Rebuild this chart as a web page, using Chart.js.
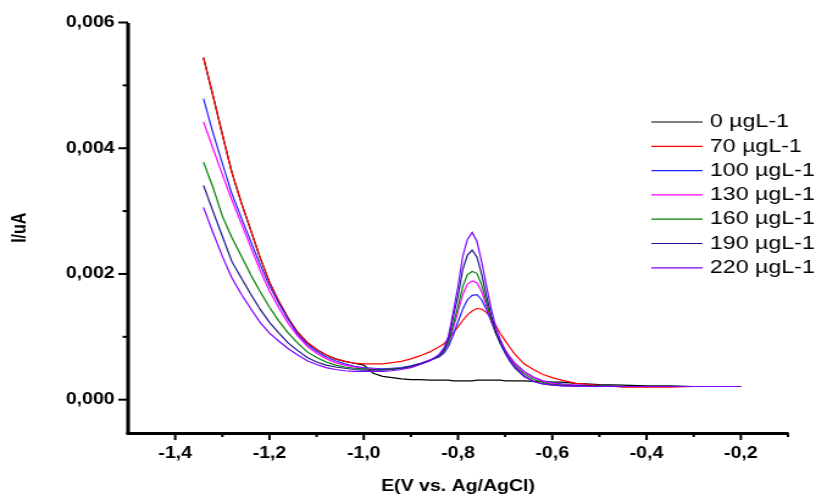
<!DOCTYPE html>
<html>
<head>
<meta charset="utf-8">
<script src="https://cdn.jsdelivr.net/npm/chart.js@4/dist/chart.umd.min.js"></script>
<style>
    html, body { margin: 0; padding: 0; background: #fff; overflow: hidden; }
    #wrap { width: 669px; height: 497px; transform: scaleX(1.21973); transform-origin: 0 0; }
</style>
</head>
<body>
<div id="wrap"><canvas id="graph"></canvas></div>
<script>
const potential = [
    -1.34, -1.32, -1.30, -1.28, -1.26, -1.24, -1.22, -1.20, -1.18, -1.16, -1.14, -1.12, -1.10,
    -1.08, -1.06, -1.04, -1.02, -1.00, -0.98, -0.96, -0.94, -0.92, -0.90, -0.88, -0.86, -0.84,
    -0.83, -0.82, -0.81, -0.80, -0.79, -0.78, -0.77, -0.76, -0.75, -0.74, -0.73, -0.72, -0.71,
    -0.70, -0.69, -0.68, -0.66, -0.64, -0.62, -0.60, -0.58, -0.55, -0.50, -0.45, -0.40, -0.35,
    -0.30, -0.25, -0.20
];

const current0 = [
    0.00544, 0.00484, 0.00422, 0.00362, 0.00314, 0.00270, 0.00226, 0.00187, 0.00156, 0.00129, 0.00107, 0.00091, 0.00080,
    0.00071, 0.00065, 0.00061, 0.00058, 0.00055, 0.00042, 0.00037, 0.00035, 0.00033, 0.00032, 0.00032, 0.00031, 0.00031,
    0.00031, 0.00031, 0.00030, 0.00030, 0.00030, 0.00030, 0.00030, 0.00031, 0.00031, 0.00031, 0.00031, 0.00031, 0.00031,
    0.00030, 0.00030, 0.00030, 0.00030, 0.00029, 0.00029, 0.00028, 0.00028, 0.00026, 0.00024, 0.00023, 0.00022, 0.00022,
    0.00021, 0.00021, 0.00021
];
const current70 = [
    0.00544, 0.00484, 0.00422, 0.00362, 0.00314, 0.00270, 0.00226, 0.00187, 0.00156, 0.00129, 0.00107, 0.00091, 0.00080,
    0.00071, 0.00065, 0.00061, 0.00058, 0.00057, 0.00057, 0.00057, 0.00059, 0.00061, 0.00065, 0.00070, 0.00076, 0.00084,
    0.00089, 0.00096, 0.00106, 0.00116, 0.00126, 0.00135, 0.00141, 0.00145, 0.00144, 0.00139, 0.00130, 0.00118, 0.00105,
    0.00094, 0.00083, 0.00073, 0.00057, 0.00048, 0.00040, 0.00035, 0.00031, 0.00026, 0.00023, 0.00020, 0.00020, 0.00020,
    0.00021, 0.00021, 0.00021
];
const current100 = [
    0.00479, 0.00425, 0.00376, 0.00328, 0.00290, 0.00252, 0.00215, 0.00181, 0.00153, 0.00127, 0.00104, 0.00088, 0.00077,
    0.00068, 0.00062, 0.00057, 0.00053, 0.00051, 0.00050, 0.00049, 0.00050, 0.00051, 0.00054, 0.00058, 0.00063, 0.00068,
    0.00074, 0.00085, 0.00103, 0.00124, 0.00144, 0.00159, 0.00166, 0.00167, 0.00159, 0.00144, 0.00125, 0.00107, 0.00092,
    0.00079, 0.00068, 0.00059, 0.00045, 0.00036, 0.00030, 0.00027, 0.00025, 0.00023, 0.00022, 0.00021, 0.00021, 0.00021,
    0.00021, 0.00021, 0.00021
];
const current130 = [
    0.00442, 0.00400, 0.00358, 0.00318, 0.00281, 0.00243, 0.00206, 0.00173, 0.00146, 0.00121, 0.00101, 0.00085, 0.00074,
    0.00065, 0.00059, 0.00055, 0.00052, 0.00050, 0.00049, 0.00048, 0.00049, 0.00050, 0.00053, 0.00057, 0.00063, 0.00069,
    0.00077, 0.00090, 0.00114, 0.00140, 0.00167, 0.00184, 0.00189, 0.00186, 0.00172, 0.00150, 0.00127, 0.00106, 0.00091,
    0.00078, 0.00067, 0.00058, 0.00044, 0.00035, 0.00029, 0.00026, 0.00024, 0.00023, 0.00022, 0.00021, 0.00021, 0.00021,
    0.00021, 0.00021, 0.00021
];
const current160 = [
    0.00378, 0.00338, 0.00292, 0.00258, 0.00229, 0.00199, 0.00172, 0.00147, 0.00125, 0.00106, 0.00090, 0.00076, 0.00067,
    0.00060, 0.00055, 0.00052, 0.00050, 0.00049, 0.00048, 0.00048, 0.00049, 0.00050, 0.00053, 0.00057, 0.00062, 0.00069,
    0.00077, 0.00092, 0.00120, 0.00148, 0.00180, 0.00199, 0.00204, 0.00201, 0.00183, 0.00156, 0.00130, 0.00106, 0.00090,
    0.00076, 0.00064, 0.00055, 0.00041, 0.00032, 0.00027, 0.000245, 0.00023, 0.00022, 0.00022, 0.00021, 0.00021, 0.00021,
    0.00021, 0.00021, 0.00021
];
const current190 = [
    0.00341, 0.00300, 0.00260, 0.00220, 0.00194, 0.00168, 0.00144, 0.00123, 0.00106, 0.00090, 0.00078, 0.00067, 0.00060,
    0.00055, 0.00052, 0.00050, 0.00048, 0.00047, 0.00047, 0.00047, 0.00048, 0.00050, 0.00053, 0.00057, 0.00062, 0.00070,
    0.00079, 0.00097, 0.00132, 0.00165, 0.00207, 0.00230, 0.00238, 0.00227, 0.00200, 0.00166, 0.00135, 0.00107, 0.00089,
    0.00074, 0.00061, 0.00051, 0.00037, 0.00029, 0.00025, 0.000235, 0.000225, 0.00022, 0.000215, 0.00021, 0.00021, 0.00021,
    0.00021, 0.00021, 0.00021
];
const current220 = [
    0.00306, 0.00266, 0.00228, 0.00194, 0.00168, 0.00145, 0.00123, 0.00106, 0.00093, 0.00081, 0.00071, 0.00062, 0.00056,
    0.00051, 0.00048, 0.00046, 0.00045, 0.00045, 0.00045, 0.00045, 0.00046, 0.00048, 0.00051, 0.00056, 0.00062, 0.00072,
    0.00082, 0.00102, 0.00140, 0.00180, 0.00228, 0.00255, 0.00266, 0.00252, 0.00220, 0.00182, 0.00146, 0.00115, 0.00095,
    0.00078, 0.00064, 0.00053, 0.00038, 0.00029, 0.00025, 0.00023, 0.00022, 0.000215, 0.00021, 0.00021, 0.00021, 0.00021,
    0.00021, 0.00021, 0.00021
];

const seriesNames = ['0 µgL-1', '70 µgL-1', '100 µgL-1', '130 µgL-1', '160 µgL-1', '190 µgL-1', '220 µgL-1'];
const seriesValues = [current0, current70, current100, current130, current160, current190, current220];
const seriesColors = ['#000000', '#ff0000', '#2020ff', '#ff00ff', '#008000', '#1a1a88', '#8000ff'];

const xTicks = [-1.4, -1.2, -1.0, -0.8, -0.6, -0.4, -0.2];
const xTickLabels = ['-1,4', '-1,2', '-1,0', '-0,8', '-0,6', '-0,4', '-0,2'];
const xMinorTicks = [-1.3, -1.1, -0.9, -0.7, -0.5, -0.3, -0.1];
const yTicks = [0, 0.002, 0.004, 0.006];
const yTickLabels = ['0,000', '0,002', '0,004', '0,006'];
const yMinorTicks = [0.001, 0.003, 0.005];

Chart.defaults.color = '#000';
Chart.defaults.font.family = '"Liberation Sans", Arial, sans-serif';

function tickLabel(values, labels) {
    return function (v) {
        const i = values.findIndex(t => Math.abs(t - v) < 1e-9);
        return i >= 0 ? labels[i] : '';
    };
}

const extras = {
    id: 'extras',
    afterDraw(chart) {
        const ctx = chart.ctx;
        const x = chart.scales.x;
        const y = chart.scales.y;
        const left = Math.round(x.left);
        const bottom = Math.round(y.bottom);
        ctx.save();
        ctx.strokeStyle = '#000000';

        // axis lines and tick marks
        ctx.fillStyle = '#000000';
        ctx.fillRect(left - 1.5, Math.round(y.top), 3, bottom - Math.round(y.top) + 1);
        ctx.fillRect(left - 1.5, bottom - 1, Math.round(x.right) - left + 2, 3);

        xTicks.forEach(v => {
            const px = x.getPixelForValue(v);
            ctx.fillRect(px - 1, bottom, 2, 7);
        });
        xMinorTicks.forEach(v => {
            const px = x.getPixelForValue(v);
            ctx.fillRect(px - 1, bottom, 2, 4);
        });
        yTicks.forEach(v => {
            const py = y.getPixelForValue(v);
            ctx.fillRect(left - 8, py - 1, 8, 2);
        });
        yMinorTicks.forEach(v => {
            const py = y.getPixelForValue(v);
            ctx.fillRect(left - 4.5, py - 1, 4.5, 2);
        });

        // legend inside the plot, top right
        ctx.font = '19px "Liberation Sans", Arial, sans-serif';
        ctx.textBaseline = 'middle';
        ctx.textAlign = 'left';
        chart.data.datasets.forEach((ds, i) => {
            const ly = 122 + i * 24.3;
            ctx.strokeStyle = ds.borderColor;
            ctx.lineWidth = 1.2;
            ctx.beginPath();
            ctx.moveTo(534, ly);
            ctx.lineTo(576, ly);
            ctx.stroke();
            ctx.fillStyle = '#000';
            ctx.fillText(ds.label, 582, ly);
        });
        ctx.restore();
    }
};

const datasets = seriesNames.map(function (name, i) {
    return {
        label: name,
        data: potential.map((e, k) => ({ x: e, y: seriesValues[i][k] })),
        borderColor: seriesColors[i],
        borderWidth: 1.2,
        pointRadius: 0,
        tension: 0,
        fill: false,
        order: seriesNames.length - i
    };
});

new Chart(document.getElementById('graph'), {
    type: 'line',
    data: { datasets: datasets },
    plugins: [extras],
    options: {
        responsive: true,
        maintainAspectRatio: false,
        animation: false,
        layout: { padding: { left: 0, right: 23, top: 22.5, bottom: 0 } },
        plugins: {
            legend: { display: false },
            tooltip: { enabled: false }
        },
        scales: {
            x: {
                type: 'linear',
                min: -1.5,
                max: -0.1,
                afterBuildTicks: scale => { scale.ticks = xTicks.map(v => ({ value: v })); },
                afterFit: scale => { scale.height = 64; },
                border: { display: false },
                grid: { display: true, drawOnChartArea: false, drawTicks: true, color: 'rgba(0,0,0,0)', tickLength: 6 },
                ticks: {
                    callback: tickLabel(xTicks, xTickLabels),
                    maxRotation: 0,
                    autoSkip: false,
                    padding: 5,
                    font: { size: 16, weight: 'bold' }
                },
                title: {
                    display: true,
                    text: 'E(V vs. Ag/AgCl)',
                    font: { size: 16, weight: 'bold' },
                    padding: { top: 0, bottom: 1 }
                }
            },
            y: {
                min: -0.00053,
                max: 0.006,
                afterBuildTicks: scale => { scale.ticks = yTicks.map(v => ({ value: v })); },
                afterFit: scale => { scale.width = 105; },
                border: { display: false },
                grid: { display: true, drawOnChartArea: false, drawTicks: true, color: 'rgba(0,0,0,0)', tickLength: 7 },
                ticks: {
                    callback: tickLabel(yTicks, yTickLabels),
                    autoSkip: false,
                    padding: 4,
                    font: { size: 16, weight: 'bold' }
                },
                title: {
                    display: true,
                    text: 'I/uA',
                    font: { size: 16, weight: 'bold' },
                    padding: { top: 7, bottom: 0 }
                }
            }
        }
    }
});
</script>
</body>
</html>
